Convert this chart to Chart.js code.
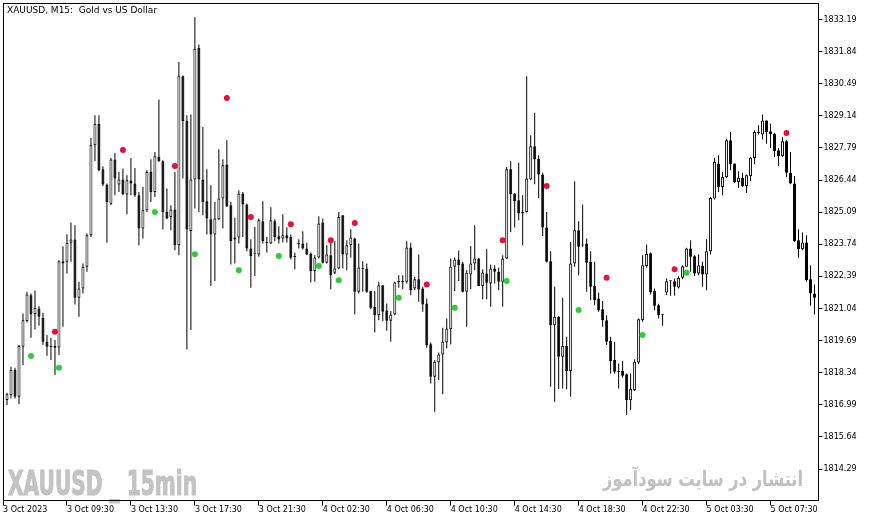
<!DOCTYPE html>
<html>
<head>
<meta charset="utf-8">
<script src="https://cdn.jsdelivr.net/npm/chart.js@4.4.1/dist/chart.umd.min.js"></script>
<style>
html,body{margin:0;padding:0;background:#fff;overflow:hidden}
#wrap{position:relative;width:871px;height:522px}
</style>
</head>
<body>
<div id="wrap"><canvas id="c" width="871" height="522"></canvas></div>
<script>
// ---------- data ----------
const chartTitle = 'XAUUSD, M15:  Gold vs US Dollar';
const tickLabels = ['3 Oct 2023','3 Oct 09:30','3 Oct 13:30','3 Oct 17:30','3 Oct 21:30','4 Oct 02:30','4 Oct 06:30','4 Oct 10:30','4 Oct 14:30','4 Oct 18:30','4 Oct 22:30','5 Oct 03:30','5 Oct 07:30'];
const barsPerTick = 16;
const yTickValues = [1833.19,1831.84,1830.49,1829.14,1827.79,1826.44,1825.09,1823.74,1822.39,1821.04,1819.69,1818.34,1816.99,1815.64,1814.29];

const open = [
1817.22,1817.19,1817.40,1818.45,1817.33,1819.43,1820.51,1821.60,1820.80,1821.04,
1820.65,1819.64,1819.43,1819.46,1819.40,1823.03,1823.00,1823.80,1823.94,1821.49,
1821.88,1822.79,1824.12,1827.90,1828.81,1826.89,1826.25,1825.44,1827.30,1826.25,
1826.46,1825.83,1826.42,1826.29,1825.80,1824.40,1825.17,1826.78,1825.94,1827.41,
1827.23,1825.10,1824.89,1825.20,1823.70,1830.80,1828.92,1824.30,1826.46,1832.00,
1826.46,1825.55,1824.79,1824.15,1824.79,1825.66,1827.09,1825.38,1823.94,1824.02,
1825.87,1825.41,1823.56,1823.35,1823.31,1824.71,1823.80,1823.77,1824.71,1824.08,
1823.98,1824.12,1824.04,1823.21,1823.76,1823.77,1823.56,1823.35,1822.62,1823.18,
1824.65,1822.96,1823.28,1822.54,1822.72,1824.96,1823.31,1823.70,1823.98,1821.74,
1822.72,1822.72,1821.77,1821.10,1820.76,1822.02,1820.96,1820.52,1820.79,1822.16,
1822.15,1822.16,1823.60,1821.88,1822.27,1821.88,1821.25,1819.54,1818.17,1818.77,
1819.11,1819.61,1820.17,1822.79,1823.10,1822.93,1821.74,1822.47,1822.93,1823.14,
1821.99,1822.51,1822.09,1822.72,1822.58,1822.16,1823.14,1826.89,1825.87,1825.59,
1825.03,1825.10,1826.46,1827.86,1827.34,1826.67,1824.44,1823.03,1820.34,1820.69,
1819.01,1819.46,1818.41,1822.93,1824.33,1823.70,1823.77,1823.00,1821.99,1821.46,
1821.01,1820.55,1819.67,1818.87,1818.38,1818.41,1818.27,1817.19,1817.61,1818.77,
1820.55,1822.83,1823.36,1821.77,1821.18,1820.79,1821.71,1822.19,1822.19,1821.92,
1822.33,1822.79,1823.56,1823.24,1822.51,1822.83,1822.47,1823.45,1825.66,1827.13,
1826.15,1826.57,1828.11,1827.13,1826.36,1826.54,1826.19,1826.61,1827.37,1828.44,
1828.35,1828.94,1828.49,1828.39,1827.69,1827.44,1828.07,1826.75,1826.29,1823.91,
1823.53,1823.81,1822.27,1821.67];
const high = [
1817.29,1817.50,1818.59,1818.55,1819.50,1820.83,1821.74,1821.67,1821.80,1821.14,
1820.86,1819.92,1819.81,1819.71,1823.07,1823.66,1824.16,1824.65,1824.54,1822.16,
1822.93,1824.19,1828.21,1829.16,1829.16,1827.02,1826.29,1827.37,1827.58,1826.78,
1826.92,1826.64,1827.37,1826.95,1825.94,1826.15,1826.85,1827.31,1827.62,1829.83,
1827.27,1826.08,1825.38,1826.78,1831.40,1830.84,1829.16,1829.20,1833.28,1832.14,
1828.67,1826.89,1826.22,1825.52,1827.73,1827.31,1828.11,1825.52,1824.85,1826.01,
1825.94,1825.45,1823.95,1824.47,1824.82,1825.55,1824.05,1825.30,1824.79,1824.50,
1825.00,1824.46,1824.15,1823.39,1823.95,1824.29,1823.80,1823.39,1823.28,1824.92,
1824.82,1823.70,1823.84,1823.87,1825.10,1824.96,1823.91,1824.37,1824.01,1823.77,
1823.03,1822.93,1821.77,1821.77,1822.16,1822.02,1821.25,1820.93,1822.16,1822.44,
1822.44,1823.87,1823.80,1822.37,1823.31,1821.95,1821.46,1819.61,1818.87,1819.19,
1820.23,1820.62,1823.14,1823.18,1823.48,1823.00,1822.65,1823.67,1824.54,1823.17,
1822.69,1823.53,1822.89,1822.86,1822.75,1823.28,1826.99,1827.23,1825.90,1827.17,
1825.80,1830.80,1828.32,1829.27,1827.48,1826.75,1825.10,1823.45,1821.95,1820.72,
1821.49,1819.85,1823.84,1826.39,1824.71,1825.41,1823.98,1823.45,1823.00,1821.71,
1821.35,1820.76,1819.85,1819.64,1818.73,1818.83,1818.31,1818.31,1818.91,1820.62,
1823.28,1823.73,1823.39,1821.88,1821.24,1820.80,1822.30,1822.22,1822.30,1822.40,
1822.86,1823.59,1823.91,1823.28,1823.31,1823.00,1823.95,1825.73,1827.38,1827.48,
1826.78,1828.18,1828.46,1827.13,1826.81,1826.75,1826.67,1827.41,1828.53,1828.74,
1829.20,1828.95,1828.81,1828.43,1827.79,1828.24,1828.11,1827.62,1826.61,1824.37,
1824.23,1824.12,1822.86,1822.05];
const low = [
1817.15,1816.98,1817.26,1817.26,1817.01,1818.66,1820.45,1819.81,1820.16,1820.31,
1819.50,1819.05,1818.87,1818.24,1819.08,1820.27,1822.51,1823.00,1821.21,1820.69,
1821.67,1822.58,1824.05,1827.24,1826.81,1826.19,1823.80,1825.38,1825.80,1825.94,
1825.80,1825.00,1825.80,1825.73,1823.70,1823.98,1825.10,1825.52,1825.73,1827.20,
1824.36,1824.79,1824.33,1823.49,1823.28,1826.50,1819.32,1820.13,1825.24,1825.10,
1824.96,1824.15,1821.99,1822.20,1824.75,1824.40,1825.31,1822.89,1822.93,1823.77,
1824.05,1823.45,1821.91,1822.41,1823.21,1823.77,1823.39,1823.75,1823.87,1823.77,
1823.81,1823.81,1823.10,1822.69,1823.56,1823.52,1823.28,1822.13,1822.16,1823.14,
1822.93,1822.93,1821.85,1822.48,1822.69,1822.72,1822.65,1823.17,1820.80,1821.67,
1821.74,1821.70,1821.01,1820.03,1820.55,1820.51,1820.10,1819.64,1820.76,1821.91,
1821.85,1822.09,1821.60,1821.81,1821.32,1820.90,1819.39,1817.89,1816.70,1818.03,
1817.43,1819.36,1819.53,1821.77,1822.20,1821.71,1820.27,1821.85,1822.65,1821.99,
1821.43,1821.43,1821.11,1822.09,1821.81,1821.11,1823.11,1824.26,1824.44,1824.75,
1823.70,1825.07,1826.43,1826.26,1825.69,1824.09,1822.97,1817.75,1817.12,1817.65,
1817.68,1817.64,1817.33,1822.79,1822.44,1823.63,1821.74,1821.39,1821.18,1820.90,
1820.27,1819.50,1818.31,1818.31,1817.68,1818.13,1816.56,1816.77,1817.57,1818.69,
1820.48,1822.75,1821.63,1820.97,1820.62,1820.31,1821.60,1821.57,1821.57,1821.88,
1822.27,1822.79,1822.58,1822.41,1822.44,1821.95,1821.81,1823.31,1825.62,1825.94,
1825.80,1826.53,1826.85,1826.32,1826.11,1826.14,1825.90,1826.40,1827.10,1828.35,
1828.15,1827.97,1827.79,1827.41,1827.03,1827.41,1826.57,1826.26,1823.84,1823.17,
1823.49,1822.16,1821.15,1820.79];
const close = [
1817.23,1817.43,1818.45,1817.33,1819.46,1820.55,1821.63,1820.79,1821.07,1820.69,
1819.64,1819.43,1819.42,1819.39,1823.03,1822.93,1823.80,1823.94,1821.49,1821.88,
1822.79,1824.12,1827.90,1828.81,1826.85,1826.25,1825.52,1827.30,1826.50,1826.46,
1825.84,1826.43,1826.29,1825.80,1824.40,1825.17,1826.78,1825.94,1827.44,1827.23,
1825.10,1824.82,1825.20,1823.70,1830.80,1828.92,1824.36,1826.46,1831.96,1826.46,
1825.52,1824.82,1824.15,1824.82,1825.66,1827.06,1825.34,1823.88,1824.02,1825.87,
1825.41,1823.56,1823.25,1823.34,1824.75,1823.87,1823.79,1824.75,1824.05,1823.94,
1824.12,1823.98,1823.17,1823.20,1823.75,1823.56,1823.31,1822.62,1823.18,1824.61,
1822.96,1823.31,1822.44,1822.72,1824.89,1823.31,1823.70,1824.02,1821.74,1822.76,
1822.71,1821.74,1821.07,1820.76,1822.02,1820.90,1820.52,1820.79,1822.13,1822.15,
1822.16,1823.60,1821.81,1822.27,1821.84,1821.21,1819.50,1818.17,1818.80,1819.11,
1819.64,1820.20,1822.79,1823.10,1822.86,1821.74,1822.54,1822.93,1823.14,1821.99,
1822.55,1822.12,1822.72,1822.58,1822.16,1823.14,1826.89,1825.84,1825.56,1825.03,
1825.11,1826.50,1827.86,1827.31,1826.67,1824.44,1823.00,1820.34,1820.69,1819.01,
1819.46,1818.41,1822.93,1824.33,1823.63,1823.69,1822.96,1821.95,1821.39,1820.97,
1820.55,1819.64,1818.83,1818.38,1818.37,1818.21,1817.19,1817.65,1818.80,1820.59,
1822.86,1823.34,1821.71,1821.15,1820.76,1820.78,1822.19,1822.18,1821.95,1822.33,
1822.82,1823.56,1823.21,1822.51,1822.86,1822.47,1823.45,1825.69,1827.20,1826.15,
1826.57,1828.11,1827.10,1826.36,1826.54,1826.19,1826.64,1827.38,1828.46,1828.42,
1828.94,1828.46,1828.38,1827.66,1827.44,1828.07,1826.75,1826.29,1823.87,1823.53,
1823.81,1822.23,1821.67,1821.49];

// signal dots (bar index, price)
const sellIdx = [13,30,43,56,62,72,82,88,106,125,136,151,168,196];
const sellVal = [1820.06,1827.70,1827.03,1829.89,1824.89,1824.58,1823.91,1824.63,1822.05,1823.91,1826.19,1822.33,1822.69,1828.42];
const buyIdx  = [7,14,38,48,59,69,79,84,99,113,126,144,160,171];
const buyVal  = [1819.04,1818.55,1825.10,1823.32,1822.65,1823.25,1822.83,1822.23,1821.49,1821.07,1822.20,1820.98,1819.93,1822.54];

const watermarkLeft = 'XAUUSD _ 15min';
const watermarkRight = 'انتشار در سایت سودآموز';

// ---------- build ----------
const nBars = open.length;
const nSlots = nBars + 1;
const xLabels = Array.from({length: nSlots}, (_, i) =>
  (i % barsPerTick === 0 && tickLabels[i / barsPerTick]) ? tickLabels[i / barsPerTick] : '');

const wickData = high.map((h, i) => [low[i], h]);
const bodyData = open.map((o, i) => [Math.min(o, close[i]), Math.max(o, close[i])]);
const bodyFill = open.map((o, i) => close[i] > o ? '#ffffff' : '#000000');

const sellData = new Array(nBars).fill(null);
sellIdx.forEach((k, j) => { sellData[k] = sellVal[j]; });
const buyData = new Array(nBars).fill(null);
buyIdx.forEach((k, j) => { buyData[k] = buyVal[j]; });

const yMax = yTickValues[0] + 0.693;
const yMin = yTickValues[yTickValues.length - 1] - 1.323;

const decor = {
  id: 'decor',
  beforeDatasetsDraw(chart) {
    const ctx = chart.ctx;
    ctx.save();
    ctx.textBaseline = 'alphabetic';
    ctx.textAlign = 'left';
    // left watermark
    ctx.fillStyle = '#c3c3c3';
    ctx.strokeStyle = '#c3c3c3';
    ctx.font = 'bold 34px "DejaVu Sans", sans-serif';
    let w = ctx.measureText(watermarkLeft).width;
    ctx.save();
    ctx.translate(8, 495);
    ctx.scale(189 / w, 1);
    ctx.lineWidth = 1.2;
    ctx.fillText(watermarkLeft, 0, 0);
    ctx.strokeText(watermarkLeft, 0, 0);
    ctx.restore();
    // right watermark (Persian)
    ctx.fillStyle = '#c0c0c0';
    ctx.font = 'bold 21px "DejaVu Sans", sans-serif';
    w = ctx.measureText(watermarkRight).width;
    ctx.save();
    ctx.translate(603, 486);
    ctx.scale(200 / w, 1);
    ctx.fillText(watermarkRight, 0, 0);
    ctx.restore();
    ctx.restore();
  },
  afterDraw(chart) {
    const ctx = chart.ctx;
    const a = chart.chartArea;
    ctx.save();
    ctx.strokeStyle = '#000';
    ctx.lineWidth = 1;
    const l = Math.floor(a.left) + 0.5, t = Math.floor(a.top) + 0.5;
    const r = Math.floor(a.right) + 0.5, b = Math.floor(a.bottom) + 0.5;
    ctx.strokeRect(l, t, r - l, b - t);
    ctx.fillStyle = '#000';
    ctx.font = '9px "DejaVu Sans", sans-serif';
    ctx.textBaseline = 'alphabetic';
    ctx.textAlign = 'left';
    ctx.fillText(chartTitle, 7, 13);
    ctx.restore();
  }
};

const axisFont = {family: '"DejaVu Sans", sans-serif', size: 8};

new Chart(document.getElementById('c'), {
  type: 'bar',
  data: {
    labels: xLabels,
    datasets: [
      {
        type: 'line', label: 'sell', data: sellData, showLine: false,
        pointRadius: 3, pointHoverRadius: 3, pointBorderWidth: 0,
        pointBackgroundColor: '#e3123c', borderColor: '#e3123c', order: 0
      },
      {
        type: 'line', label: 'buy', data: buyData, showLine: false,
        pointRadius: 3, pointHoverRadius: 3, pointBorderWidth: 0,
        pointBackgroundColor: '#2fcc3a', borderColor: '#2fcc3a', order: 0
      },
      {
        label: 'body', data: bodyData, grouped: false,
        barPercentage: 1, categoryPercentage: 1, maxBarThickness: 3,
        backgroundColor: bodyFill, borderColor: '#000', borderWidth: 1,
        borderSkipped: false, minBarLength: 1, inflateAmount: 0, order: 1
      },
      {
        label: 'wick', data: wickData, grouped: false,
        barPercentage: 1, categoryPercentage: 1, maxBarThickness: 1,
        backgroundColor: '#000', borderWidth: 0, inflateAmount: 0, order: 2
      }
    ]
  },
  options: {
    responsive: false,
    devicePixelRatio: 1,
    animation: false,
    events: [],
    layout: {padding: {left: 2.5, top: 2.5, right: 0, bottom: 0}},
    plugins: {legend: {display: false}, tooltip: {enabled: false}, title: {display: false}},
    scales: {
      x: {
        type: 'category',
        offset: false,
        border: {display: false},
        grid: {
          offset: false, drawOnChartArea: false, drawTicks: true, tickLength: 5,
          color: c => xLabels[c.index] ? '#000' : 'rgba(0,0,0,0)',
          tickColor: c => xLabels[c.index] ? '#000' : 'rgba(0,0,0,0)',
          lineWidth: 1, tickWidth: 1
        },
        ticks: {
          autoSkip: false, maxRotation: 0, minRotation: 0, align: 'start', padding: 0,
          color: '#000', font: axisFont,
          callback: (v, i) => xLabels[i]
        },
        afterFit: s => { s.height = 21.5; s.paddingLeft = 0; s.paddingRight = 0; }
      },
      y: {
        type: 'linear',
        position: 'right',
        min: yMin, max: yMax,
        border: {display: false},
        grid: {drawOnChartArea: false, drawTicks: true, tickLength: 4, tickColor: '#000', color: '#000'},
        ticks: {padding: 1, color: '#000', font: axisFont, callback: v => Number(v).toFixed(2)},
        afterBuildTicks: s => { s.ticks = yTickValues.map(v => ({value: v})); },
        afterFit: s => { s.width = 52.5; s.paddingTop = 0; s.paddingBottom = 0; }
      }
    }
  },
  plugins: [decor]
});
</script>
</body>
</html>
